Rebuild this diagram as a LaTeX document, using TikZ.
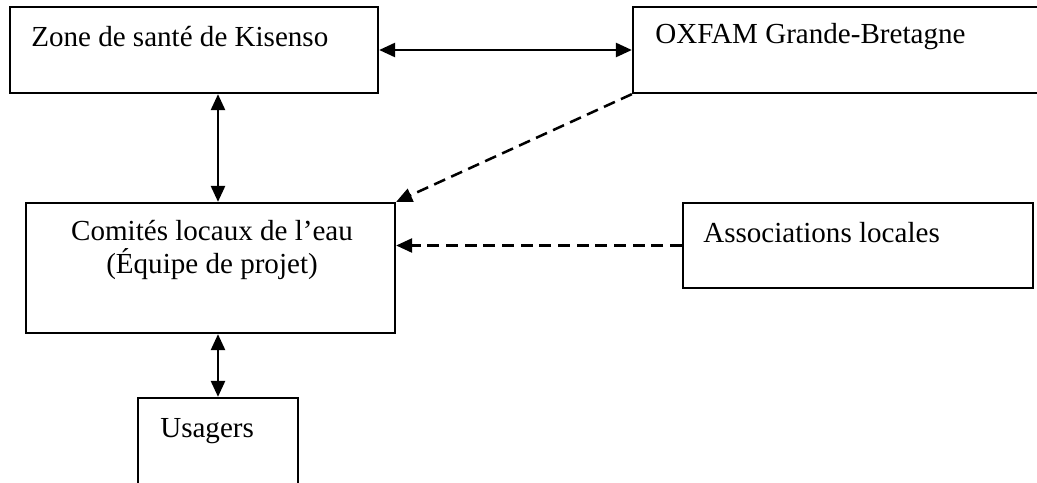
\documentclass[tikz,border=0pt]{standalone}
\usepackage{fontspec}
\setmainfont{Liberation Serif}
\usetikzlibrary{arrows.meta}
\begin{document}
\begin{tikzpicture}[x=0.75pt,y=-0.75pt,
  box/.style={draw,line width=1.7pt,rectangle,inner sep=0pt},
  lbl/.style={inner sep=0pt,font=\fontsize{21.8}{24.75}\selectfont},
  link/.style={line width=1.9pt,{Triangle[length=12pt,width=10.5pt]}-{Triangle[length=12pt,width=10.5pt]}},
  dlink/.style={line width=1.9pt,dash pattern=on 9pt off 5pt,-{Triangle[length=12pt,width=10.5pt]}}]
\useasboundingbox (0,0) rectangle (1037,482);
\clip (0,0) rectangle (1037,482);
% boxes
\node[box,minimum width=368*0.75pt,minimum height=86*0.75pt] (z) at (194,50) {};
\node[box,minimum width=412*0.75pt,minimum height=86*0.75pt] (o) at (839,50) {};
\node[box,minimum width=369*0.75pt,minimum height=130*0.75pt] (c) at (210.5,268) {};
\node[box,minimum width=350*0.75pt,minimum height=85*0.75pt] (a) at (858,245.5) {};
\node[box,minimum width=160*0.75pt,minimum height=104*0.75pt] (u) at (218,450) {};
% texts
\node[lbl,anchor=base west] (zt) at (31,46) {Zone de santé de Kisenso};
\node[lbl,anchor=base west] (ot) at (655,43) {OXFAM Grande-Bretagne};
\node[lbl,anchor=base] (ct1) at (212,240) {Comités locaux de l’eau};
\node[lbl,anchor=base] (ct2) at (212,273) {(Équipe de projet)};
\node[lbl,anchor=base west] (at) at (703,242) {Associations locales};
\node[lbl,anchor=base west] (ut) at (160,437) {Usagers};
% connectors
\draw[link] (z.east) -- (o.west |- z.east);
\draw[link] (z.south -| u.north) -- (c.north -| u.north);
\draw[link] (c.south -| u.north) -- (u.north);
\draw[dlink] (o.south west) -- (c.north east);
\draw[dlink] (a.west) -- (a.west -| c.east);
\end{tikzpicture}
\end{document}
